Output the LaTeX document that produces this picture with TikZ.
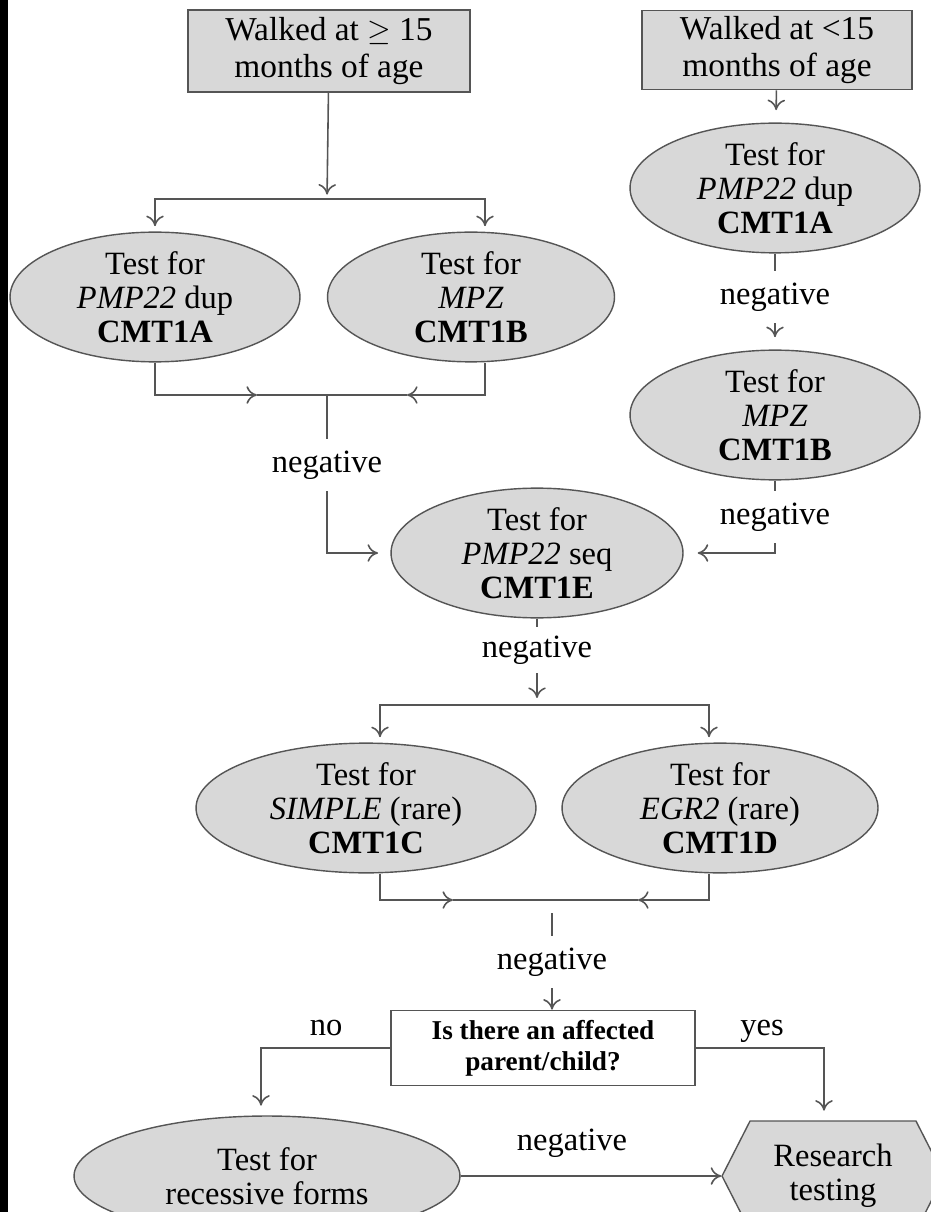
\documentclass[tikz,border=0pt]{standalone}
\usepackage{fontspec}
\setmainfont{Liberation Serif}
\usetikzlibrary{shapes.geometric,shapes.symbols,arrows.meta}

\definecolor{shadegray}{RGB}{216,216,216}
\definecolor{linegray}{RGB}{85,85,85}

\tikzset{
  testnode/.style={ellipse, draw=linegray, fill=shadegray, inner sep=0pt, align=center,
    line width=0.8pt, font=\fontsize{18.5}{19.5}\selectfont},
  walkbox/.style={rectangle, draw=linegray, fill=shadegray, align=center,
    line width=1pt, font=\fontsize{19}{21}\selectfont},
  negnode/.style={fill=white, inner xsep=2pt, inner ysep=6.5pt, font=\fontsize{18.5}{19.5}\selectfont},
  plainlabel/.style={font=\fontsize{18.5}{19.5}\selectfont},
  flow/.style={draw=linegray, line width=0.9pt},
  arr/.style={flow, -{To[length=6pt,width=10pt]}},
}

\begin{document}
\begin{tikzpicture}[x=0.02cm, y=-0.02cm]
    \useasboundingbox (0,0) rectangle (930,1212);
    \fill[white] (0,0) rectangle (930,1212);
    \fill[black] (0,0) rectangle (8,1212);

    % start boxes
    \node[walkbox, minimum width=5.64cm, minimum height=1.64cm] (walkA) at (329,51) {Walked at $\geq$ 15\\months of age};
    \node[walkbox, minimum width=5.4cm, minimum height=1.56cm] (walkB) at (777,50) {Walked at <15\\months of age};

    % tests
    \node[testnode, minimum width=5.8cm, minimum height=2.44cm] (dupA) at (155,297) {Test for\\\textit{PMP22} dup\\\textbf{CMT1A}};
    \node[testnode, minimum width=5.74cm, minimum height=2.44cm] (mpzA) at (471,297) {Test for\\\textit{MPZ}\\\textbf{CMT1B}};
    \node[testnode, minimum width=5.8cm, minimum height=2.4cm] (dupB) at (775,188) {Test for\\\textit{PMP22} dup\\\textbf{CMT1A}};
    \node[testnode, minimum width=5.8cm, minimum height=2.4cm] (mpzB) at (775,415) {Test for\\\textit{MPZ}\\\textbf{CMT1B}};
    \node[testnode, minimum width=5.84cm, minimum height=2.4cm] (seqE) at (537,553) {Test for\\\textit{PMP22} seq\\\textbf{CMT1E}};
    \node[testnode, minimum width=6.8cm, minimum height=2.4cm] (simC) at (366,808) {Test for\\\textit{SIMPLE} (rare)\\\textbf{CMT1C}};
    \node[testnode, minimum width=6.32cm, minimum height=2.4cm] (egrD) at (720,808) {Test for\\\textit{EGR2} (rare)\\\textbf{CMT1D}};
    \node[rectangle, draw=linegray, fill=white, line width=1pt, align=center, minimum width=6.08cm, minimum height=1.5cm,
        font=\fontsize{15.5}{17.5}\selectfont\bfseries] (ask) at (543,1048) {Is there an affected\\parent/child?};
    \node[testnode, minimum width=7.72cm, minimum height=2.4cm] (recF) at (267,1176) {Test for\\recessive forms};
    \node[signal, signal to=west and east, signal pointer angle=126, draw=linegray, fill=shadegray, line width=0.8pt,
        inner sep=0pt, align=center, minimum width=4.44cm, minimum height=2.2cm,
        font=\fontsize{18.5}{19.5}\selectfont] (research) at (833,1176) {Research\\testing};

    % junctions
    \coordinate (jTop) at (327,199);
    \coordinate (jAB) at (327,395);
    \coordinate (inA) at (257,395);
    \coordinate (inB) at (407,395);
    \coordinate (jE) at (537,705);
    \coordinate (jCD) at (552,900);
    \coordinate (inC) at (453,900);
    \coordinate (inD) at (638,900);

    % left branch
    \draw[arr, shorten >=2.5pt] (walkA) -- (jTop);
    \draw[arr, shorten >=3pt] (jTop) -| (dupA);
    \draw[arr, shorten >=3pt] (jTop) -| ([xshift=0.28cm]mpzA.north);
    \draw[arr] (dupA) |- (inA);
    \draw[flow] (inA) -- (jAB) -- (inB);
    \draw[arr] ([xshift=0.28cm]mpzA.south) |- (inB);
    \draw[arr, shorten >=7pt] (jAB) |- (seqE);
    \node[negnode] (negL) at (327,465) {negative};

    % right branch
    \draw[arr, shorten >=7pt] (walkB) -- (dupB);
    \draw[arr, shorten >=7pt] (dupB) -- (mpzB);
    \node[negnode] (negR1) at (775,297) {negative};
    \draw[arr, shorten >=8pt] (mpzB) |- (seqE);
    \node[negnode] (negR2) at (775,517) {negative};

    % rare forms
    \draw[arr, shorten >=4pt] (seqE) -- (jE);
    \node[negnode, inner ysep=5pt] (negE) at (537,650) {negative};
    \draw[arr, shorten >=3pt] (jE) -| ([xshift=0.28cm]simC.north);
    \draw[arr, shorten >=3pt] (jE) -| ([xshift=-0.22cm]egrD.north);
    \draw[arr] ([xshift=0.28cm]simC.south) |- (inC);
    \draw[flow] (inC) -- (inD);
    \draw[arr] ([xshift=-0.22cm]egrD.south) |- (inD);
    \draw[arr, shorten <=7.5pt] (jCD) -- (jCD |- ask.north);
    \node[negnode] (negCD) at (552,962) {negative};

    % family question
    \draw[arr, shorten >=5.5pt] (ask) -| ([xshift=-0.12cm]recF.north);
    \draw[arr, shorten >=5.5pt] (ask) -| ([xshift=-0.18cm]research.north);
    \node[plainlabel, anchor=base] (noLabel) at (326,1035) {no};
    \node[plainlabel, anchor=base] (yesLabel) at (762,1035) {yes};
    \draw[arr] (recF) -- (research);
    \node[plainlabel] (negF) at (572,1143) {negative};
\end{tikzpicture}
\end{document}
